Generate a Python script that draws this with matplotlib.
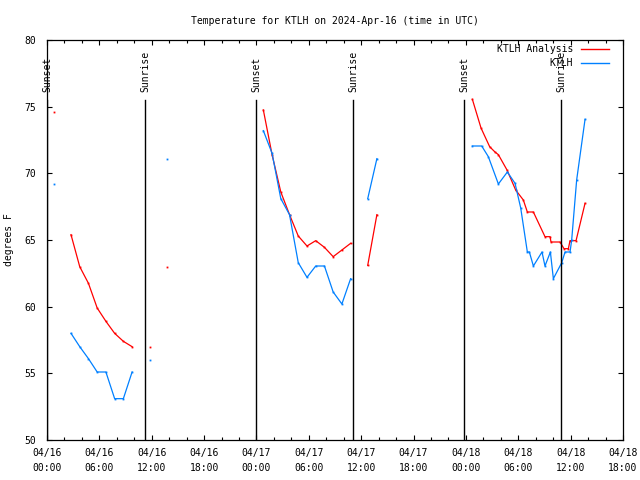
import numpy as np
import matplotlib
matplotlib.use('Agg')
from matplotlib import pyplot as plt
from matplotlib.ticker import MultipleLocator

# hours since 2024-04-16 00:00 UTC, None = gap in the data
red_hours = [0.84, None,
             2.75, 3.75, 4.75, 5.75, 6.75, 7.75, 8.75, 9.75, None,
             11.8, None, 13.8, None,
             24.79, 25.79, 26.79, 27.79, 28.79, 29.79, 30.79, 31.79, 32.79, 33.79, 34.79, None,
             36.75, 37.8, None,
             48.74, 49.73, 50.72, 51.33, 51.72, 52.71, 53.7, 54.58, 55.04, 55.73,
             57.06, 57.64, 57.75, 58.78, 59.24, 59.74, 59.93, 60.62, 61.65]
red_temps = [74.6, None,
             65.4, 63.0, 61.75, 59.9, 58.9, 58.0, 57.4, 57.0, None,
             57.0, None, 63.0, None,
             74.75, 71.4, 68.6, 66.9, 65.3, 64.55, 64.95, 64.45, 63.75, 64.25, 64.75, None,
             63.1, 66.9, None,
             75.55, 73.4, 72.0, 71.6, 71.4, 70.25, 68.75, 68.0, 67.1, 67.1,
             65.25, 65.25, 64.85, 64.85, 64.35, 64.35, 64.95, 64.95, 67.75]

blue_hours = [0.84, None,
              2.75, 3.75, 4.75, 5.75, 6.75, 7.75, 8.75, 9.75, None,
              11.8, None, 13.8, None,
              24.79, 25.79, 26.79, 27.79, 28.79, 29.79, 30.79, 31.79, 32.79, 33.79, 34.79, None,
              36.75, 37.8, None,
              48.74, 49.81, 50.57, 51.72, 52.75, 53.63, 54.28, 55.04, 55.27, 55.73,
              56.72, 57.06, 57.68, 58.02, 58.98, 59.36, 59.93, 60.12, 60.69, 61.65]
blue_temps = [69.2, None,
              58.0, 57.0, 56.1, 55.1, 55.1, 53.1, 53.1, 55.1, None,
              56.0, None, 71.1, None,
              73.2, 71.5, 68.1, 66.9, 63.3, 62.2, 63.05, 63.05, 61.1, 60.2, 62.1, None,
              68.1, 71.1, None,
              72.05, 72.05, 71.25, 69.2, 70.1, 69.25, 67.4, 64.1, 64.1, 63.05,
              64.1, 63.05, 64.1, 62.1, 63.3, 64.1, 64.1, 65.0, 69.5, 74.05]

sun_hours = [0.02, 11.23, 23.95, 35.06, 47.78, 58.9]
sun_names = ['Sunset', 'Sunrise', 'Sunset', 'Sunrise', 'Sunset', 'Sunrise']

tick_hours = np.arange(0, 67, 6)
tick_labels = ['04/16\n00:00', '04/16\n06:00', '04/16\n12:00', '04/16\n18:00',
               '04/17\n00:00', '04/17\n06:00', '04/17\n12:00', '04/17\n18:00',
               '04/18\n00:00', '04/18\n06:00', '04/18\n12:00', '04/18\n18:00']


def to_arr(v):
    return np.array([np.nan if x is None else x for x in v], dtype=float)


plt.rcParams['font.family'] = 'DejaVu Sans Mono'
plt.rcParams['font.size'] = 7

fig = plt.figure(figsize=(6.4, 4.8), dpi=100)
ax = fig.add_axes([47 / 640, 40 / 480, 576 / 640, 400 / 480])

ax.plot(to_arr(red_hours), to_arr(red_temps), color='#ff0000', lw=0.9,
        marker='s', ms=1.3, mew=0, label='KTLH Analysis')
ax.plot(to_arr(blue_hours), to_arr(blue_temps), color='#0080ff', lw=0.9,
        marker='s', ms=1.3, mew=0, label='KTLH')

for h, name in zip(sun_hours, sun_names):
    ax.axvline(h, ymin=0, ymax=0.85, color='black', lw=1)
    ax.text(h, 0.87, name, transform=ax.get_xaxis_transform(), rotation=90,
            ha='center', va='bottom', fontsize=7)

ax.set_xlim(0, 66)
ax.set_ylim(50, 80)
ax.set_xticks(tick_hours)
ax.set_xticklabels(tick_labels, linespacing=1.6)
ax.xaxis.set_minor_locator(MultipleLocator(2))
ax.yaxis.set_major_locator(MultipleLocator(5))

ax.tick_params(which='both', direction='in', top=True, right=True, width=0.8)
ax.tick_params(which='major', length=3.3)
ax.tick_params(which='minor', length=2)
ax.tick_params(axis='x', pad=6)
ax.tick_params(axis='y', pad=8)
for s in ax.spines.values():
    s.set_linewidth(0.9)

ax.set_ylabel('degrees F')
ax.yaxis.set_label_coords(-0.057, 0.5)
ax.set_title('Temperature for KTLH on 2024-Apr-16 (time in UTC)', pad=11.5, fontsize=7)

leg = ax.legend(loc='upper right', bbox_to_anchor=(0.9757, 0.99), frameon=False,
                markerfirst=False, handlelength=2.9, handletextpad=0.8,
                borderpad=0, borderaxespad=0, labelspacing=0.45, fontsize=7)
for line in leg.get_lines():
    line.set_marker('')
    line.set_linewidth(1)

plt.savefig('out.png')
